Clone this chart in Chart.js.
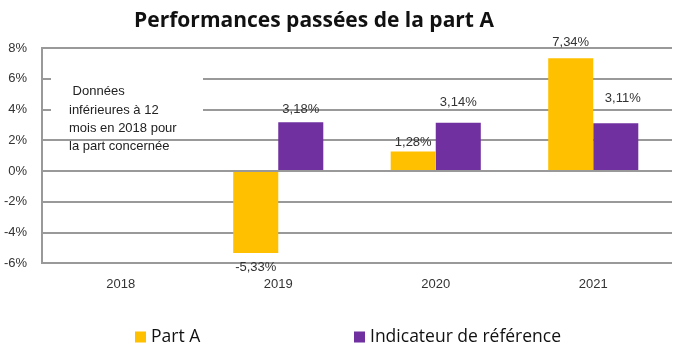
<!DOCTYPE html>
<html>
<head>
<meta charset="utf-8">
<script src="https://cdn.jsdelivr.net/npm/chart.js@4/dist/chart.umd.min.js"></script>
<style>
  body { margin: 0; background: #fff; }
  #wrap { width: 681px; height: 353px; }
</style>
</head>
<body>
<div id="wrap"><canvas id="perfChart"></canvas></div>
<script>
const years = ['2018', '2019', '2020', '2021'];
const partA = [null, -5.33, 1.28, 7.34];
const indicateur = [null, 3.18, 3.14, 3.11];
const yTicks = [-6, -4, -2, 0, 2, 4, 6, 8];
const noteLines = [' Données', 'inférieures à 12', 'mois en 2018 pour', 'la part concernée'];
const chartTitle = 'Performances passées de la part A';

// label distance from the bar end (px), per dataset, and small x nudges
const labelGap = [[0, 14, 9, 16], [0, 13, 20, 25]];
const labelDx = [[0, 0, 0, 0], [0, 0, 0, 7]];

const fmt = v => v.toFixed(2).replace('.', ',') + '%';

const plainTitle = {
    id: 'plainTitle',
    afterDraw(chart) {
        const ctx = chart.ctx;
        ctx.save();
        ctx.font = 'bold 21px "Open Sans", sans-serif';
        ctx.fillStyle = '#111';
        ctx.textAlign = 'center';
        ctx.textBaseline = 'middle';
        ctx.fillText(chartTitle, 314, 21);
        ctx.restore();
    }
};

// values written above positive bars, under negative ones
const valueLabels = {
    id: 'valueLabels',
    afterDatasetsDraw(chart) {
        const ctx = chart.ctx;
        ctx.save();
        ctx.font = '13px "Liberation Sans", Arial, sans-serif';
        ctx.fillStyle = '#333';
        ctx.textAlign = 'center';
        ctx.textBaseline = 'middle';
        chart.data.datasets.forEach((ds, i) => {
            chart.getDatasetMeta(i).data.forEach((bar, j) => {
                const v = ds.data[j];
                if (v === null) return;
                const gap = labelGap[i][j];
                const y = v >= 0 ? bar.y - gap : bar.y + gap;
                ctx.fillText(fmt(v), bar.x + labelDx[i][j], y);
            });
        });
        ctx.restore();
    }
};

// note box for 2018 (covers the grid behind it)
const noteBox = {
    id: 'noteBox',
    beforeDatasetsDraw(chart) {
        const ctx = chart.ctx;
        const x = chart.scales.x;
        const y = chart.scales.y;
        const y6 = y.getPixelForValue(6);
        ctx.save();
        ctx.fillStyle = '#fff';
        ctx.fillRect(x.left + 9, y6 - 11, 152, 57);
        ctx.font = '13px "Liberation Sans", Arial, sans-serif';
        ctx.fillStyle = '#222';
        ctx.textAlign = 'left';
        ctx.textBaseline = 'middle';
        noteLines.forEach((line, i) => {
            ctx.fillText(line, x.left + 27, y6 + 13 + i * 18.3);
        });
        ctx.restore();
    }
};

// legend drawn by hand: two items far apart at the bottom
const wideLegend = {
    id: 'wideLegend',
    afterDraw(chart) {
        const ctx = chart.ctx;
        const xs = [135, 354];
        const yMid = 337;
        ctx.save();
        ctx.font = '17.5px "Open Sans", sans-serif';
        ctx.textBaseline = 'middle';
        ctx.textAlign = 'left';
        chart.data.datasets.forEach((ds, i) => {
            ctx.fillStyle = ds.backgroundColor;
            ctx.fillRect(xs[i], yMid - 5.5, 11, 11);
            ctx.fillStyle = '#111';
            ctx.fillText(ds.label, xs[i] + 16, yMid);
        });
        ctx.restore();
    }
};

new Chart(document.getElementById('perfChart'), {
    type: 'bar',
    data: {
        labels: years,
        datasets: [{
            label: 'Part A',
            data: partA,
            backgroundColor: '#FFC000'
        }, {
            label: 'Indicateur de référence',
            data: indicateur,
            backgroundColor: '#7030A0'
        }]
    },
    options: {
        responsive: true,
        maintainAspectRatio: false,
        animation: false,
        datasets: { bar: { categoryPercentage: 0.572, barPercentage: 1 } },
        layout: { padding: { left: 2, right: 9, top: 48, bottom: 48 } },
        plugins: {
            title: { display: false },
            legend: { display: false },
            tooltip: { enabled: false }
        },
        scales: {
            x: {
                grid: { display: false, drawTicks: false },
                border: { display: false },
                ticks: { color: '#333', font: { family: '"Liberation Sans", sans-serif', size: 13 }, padding: 13 }
            },
            y: {
                min: -6,
                max: 8,
                afterBuildTicks: axis => { axis.ticks = yTicks.map(v => ({ value: v })); },
                afterFit: axis => { axis.width = 40; },
                grid: { color: '#999', lineWidth: 2, drawTicks: false },
                border: { color: '#999', width: 2 },
                ticks: {
                    color: '#333',
                    font: { family: '"Liberation Sans", sans-serif', size: 13 },
                    padding: 15,
                    callback: v => v + '%'
                }
            }
        }
    },
    plugins: [noteBox, valueLabels, wideLegend, plainTitle]
});
</script>
</body>
</html>
